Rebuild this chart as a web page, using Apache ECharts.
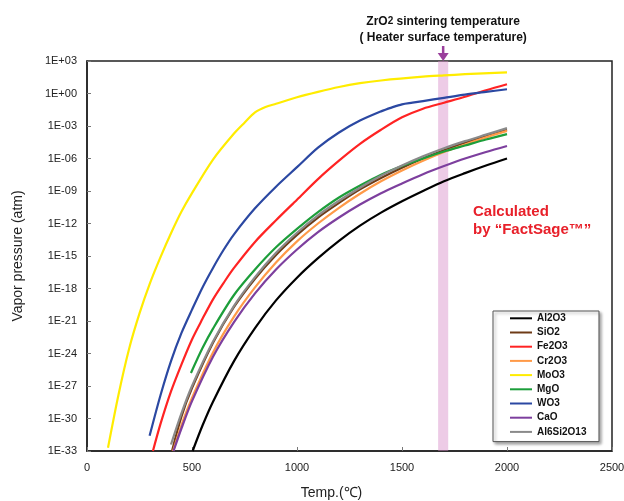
<!DOCTYPE html>
<html>
<head>
<meta charset="utf-8">
<script src="https://cdn.jsdelivr.net/npm/echarts@6/dist/echarts.min.js"></script>
<style>html,body{margin:0;padding:0;background:#fff}#c{width:624px;height:501px}</style>
</head>
<body>
<div id="c"></div>
<script>
// Temperatures (°C) and log10 vapor pressure (atm)
const al2o3T = [503,550,600,700,800,900,1000,1100,1200,1300,1400,1500,1600,1700,1800,1900,2000];
const al2o3  = [-33,-30.65,-28.45,-24.7,-21.65,-19.1,-17.0,-15.2,-13.6,-12.2,-11.0,-9.95,-9.0,-8.1,-7.35,-6.65,-6.0];
const sio2T  = [405,450,500,600,700,800,900,1000,1100,1200,1300,1400,1500,1600,1700,1800,1900,2000];
const sio2   = [-33,-29.8,-27.2,-23.0,-19.7,-17.1,-14.9,-13.05,-11.45,-10.1,-8.85,-7.8,-6.85,-6.0,-5.25,-4.55,-3.95,-3.35];
const fe2o3T = [314,350,400,450,500,550,600,650,700,800,900,1000,1100,1200,1300,1400,1500,1600,1700,1800,1900,2000];
const fe2o3  = [-33,-30.5,-27.5,-25.0,-22.7,-20.8,-19.0,-17.5,-16.1,-13.7,-11.7,-9.8,-7.9,-6.2,-4.65,-3.35,-2.2,-1.4,-0.85,-0.3,0.3,0.85];
const cr2o3T = [410,450,500,600,700,800,900,1000,1100,1200,1300,1400,1500,1600,1700,1800,1900,2000];
const cr2o3  = [-33,-30.6,-28.1,-23.9,-20.6,-17.9,-15.6,-13.65,-12.0,-10.55,-9.25,-8.1,-7.1,-6.2,-5.4,-4.7,-4.05,-3.45];
const moo3T  = [100,150,200,250,300,350,400,450,500,600,700,750,800,850,900,1000,1100,1200,1300,1400,1600,1700,1800,2000];
const moo3   = [-32.7,-27.8,-23.6,-20.3,-17.5,-15.1,-12.9,-10.9,-9.2,-6.1,-3.7,-2.7,-1.75,-1.25,-0.95,-0.35,0.15,0.6,0.95,1.2,1.55,1.67,1.78,1.95];
const mgoT   = [495,550,600,700,800,900,1000,1100,1200,1300,1400,1500,1600,1700,1800,1900,2000];
const mgo    = [-25.8,-23.5,-21.7,-18.6,-16.25,-14.2,-12.5,-10.95,-9.6,-8.5,-7.5,-6.7,-6.0,-5.35,-4.8,-4.25,-3.75];
const wo3T   = [298,350,400,450,500,550,600,650,700,800,900,1000,1100,1200,1300,1400,1450,1500,1550,1600,1700,1800,1900,2000];
const wo3    = [-31.6,-27.85,-24.7,-22.1,-19.95,-17.9,-16.1,-14.45,-13.0,-10.6,-8.6,-6.8,-5.0,-3.6,-2.5,-1.65,-1.3,-1.0,-0.85,-0.7,-0.4,-0.1,0.15,0.39];
const caoT   = [412,450,500,600,700,800,900,1000,1100,1200,1300,1400,1500,1600,1700,1800,1900,2000];
const cao    = [-33,-30.9,-28.4,-24.3,-21.1,-18.45,-16.25,-14.4,-12.8,-11.45,-10.25,-9.2,-8.3,-7.45,-6.7,-6.0,-5.4,-4.85];
const al6T   = [400,450,500,600,700,800,900,1000,1100,1200,1300,1400,1500,1600,1700,1800,1900,2000];
const al6    = [-32.4,-29.5,-27.0,-22.9,-19.6,-16.95,-14.7,-12.85,-11.25,-9.9,-8.7,-7.6,-6.65,-5.8,-5.05,-4.4,-3.8,-3.2];

const names  = ['Al2O3','SiO2','Fe2O3','Cr2O3','MoO3','MgO','WO3','CaO','Al6Si2O13'];
const colors = ['#000000','#6e3b17','#ff2323','#ff9a48','#ffec00','#1c9e3a','#2b48a2','#7d3f9e','#8a8a8a'];
const temps  = [al2o3T,sio2T,fe2o3T,cr2o3T,moo3T,mgoT,wo3T,caoT,al6T];
const values = [al2o3,sio2,fe2o3,cr2o3,moo3,mgo,wo3,cao,al6];

const bandRange = [1672, 1720];   // ZrO2 sintering temperature band (°C)
const bandMark = 1696;
const xTicks = [0, 2500, 500];
const yTicks = [-33, 3, 3];       // exponents of 10

const FONT = "'Liberation Sans', Arial, sans-serif";
const chart = echarts.init(document.getElementById('c'), null, {renderer: 'canvas'});

const series = names.map((n, i) => ({
  name: n, type: 'line', showSymbol: false, symbol: 'none',
  smooth: 0.3,
  lineStyle: {color: colors[i], width: 2.2},
  itemStyle: {color: colors[i]},
  data: temps[i].map((t, k) => [t, values[i][k]]),
  z: 2
}));
series.push({
  name: 'band', type: 'line', data: [], z: 5, silent: true,
  markArea: {silent: true, itemStyle: {color: 'rgba(214,140,200,0.45)'},
    data: [[{xAxis: bandRange[0], yAxis: yTicks[0]}, {xAxis: bandRange[1], yAxis: yTicks[1]}]]}
});

function fmtExp(v) {
  const a = Math.abs(Math.round(v));
  return '1E' + (v < 0 ? '-' : '+') + (a < 10 ? '0' + a : a);
}

chart.setOption({
  animation: false,
  textStyle: {fontFamily: FONT},
  grid: {left: 87, right: 12, top: 61, bottom: 50, show: true, borderColor: '#222', borderWidth: 1.5,
         containLabel: false, outerBoundsMode: 'none'},
  xAxis: {
    type: 'value', min: xTicks[0], max: xTicks[1], interval: xTicks[2],
    name: 'Temp.(℃)', nameLocation: 'middle', nameGap: 35,
    nameTextStyle: {fontSize: 14, color: '#222', fontFamily: FONT, padding: [0, 36, 0, 0]},
    axisLine: {onZero: false, lineStyle: {color: '#222', width: 1.5}},
    axisTick: {inside: true, length: 4, lineStyle: {color: '#777'}},
    axisLabel: {fontSize: 11, color: '#222', margin: 11, fontFamily: FONT, formatter: v => String(v)},
    splitLine: {show: false}
  },
  yAxis: {
    type: 'value', min: yTicks[0], max: yTicks[1], interval: yTicks[2],
    name: 'Vapor pressure (atm)', nameLocation: 'middle', nameGap: 62,
    nameTextStyle: {fontSize: 14, color: '#222', fontFamily: FONT},
    axisLine: {onZero: false, lineStyle: {color: '#222', width: 1.5}},
    axisTick: {inside: true, length: 4, lineStyle: {color: '#777'}},
    axisLabel: {fontSize: 11, color: '#222', margin: 10, fontFamily: FONT, formatter: fmtExp},
    splitLine: {show: false}
  },
  legend: {
    data: names, orient: 'vertical', left: 493, top: 311,
    icon: 'rect', itemWidth: 22, itemHeight: 2, itemGap: 2.2,
    padding: [1.3, 12.5, 3.7, 17],
    backgroundColor: '#fff', borderColor: '#555', borderWidth: 1,
    shadowColor: 'rgba(0,0,0,0.35)', shadowBlur: 3, shadowOffsetX: 2, shadowOffsetY: 2,
    textStyle: {fontSize: 10, fontWeight: 'bold', color: '#111', lineHeight: 12, fontFamily: FONT},
    selectedMode: false
  },
  series: series
});

const bx = chart.convertToPixel({xAxisIndex: 0}, bandMark);
const arrowColor = '#9a3f9c';
chart.setOption({
  graphic: [
    {type: 'text', silent: true, style: {
      x: bx, y: 21.5, text: '{a|ZrO}{s|2}{a| sintering temperature}', align: 'center', verticalAlign: 'middle',
      rich: {a: {fontSize: 12, fontWeight: 'bold', fill: '#111', fontFamily: FONT},
             s: {fontSize: 10, fontWeight: 'bold', fill: '#111', fontFamily: FONT}}}},
    {type: 'text', silent: true, style: {
      x: bx, y: 37.5, text: '( Heater surface temperature)', align: 'center', verticalAlign: 'middle',
      fontSize: 12, fontWeight: 'bold', fill: '#111', fontFamily: FONT}},
    {type: 'line', silent: true, shape: {x1: bx, y1: 46, x2: bx, y2: 56},
      style: {stroke: arrowColor, lineWidth: 2.5}},
    {type: 'polygon', silent: true, shape: {points: [[bx - 5.5, 53], [bx + 5.5, 53], [bx, 61]]},
      style: {fill: arrowColor}},
    {type: 'text', silent: true, style: {
      x: 473, y: 211.5, text: 'Calculated', verticalAlign: 'middle',
      fontSize: 15, fontWeight: 'bold', fill: '#e8202a', fontFamily: FONT}},
    {type: 'text', silent: true, style: {
      x: 473, y: 230, text: 'by “FactSage™”', verticalAlign: 'middle',
      fontSize: 15, fontWeight: 'bold', fill: '#e8202a', fontFamily: FONT}}
  ]
});
</script>
</body>
</html>
